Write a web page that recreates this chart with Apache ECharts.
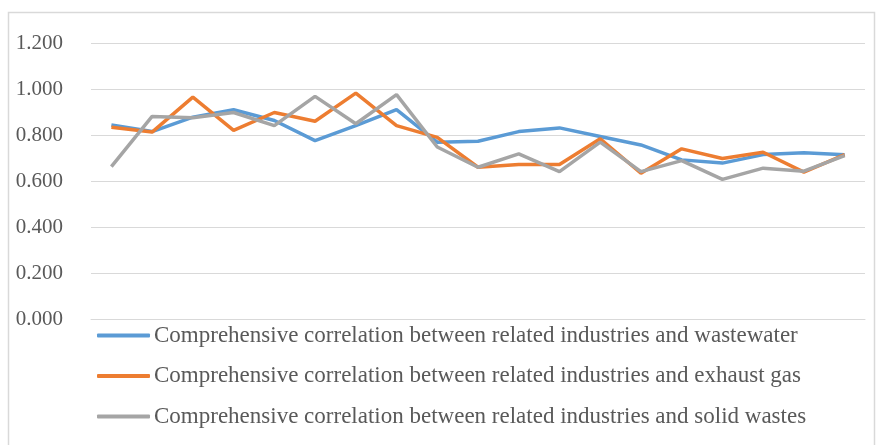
<!DOCTYPE html>
<html><head><meta charset="utf-8">
<script src="https://cdn.jsdelivr.net/npm/echarts@6/dist/echarts.min.js"></script>
<style>html,body{margin:0;padding:0;background:#fff}#c{width:880px;height:445px}</style>
</head><body><div id="c"></div>
<script>
const categories = ['1','2','3','4','5','6','7','8','9','10','11','12','13','14','15','16','17','18','19'];
const seriesNames = [
  'Comprehensive correlation between related industries and wastewater',
  'Comprehensive correlation between related industries and exhaust gas',
  'Comprehensive correlation between related industries and solid wastes'
];
const wastewater = [0.846,0.817,0.880,0.912,0.865,0.778,0.843,0.912,0.771,0.775,0.817,0.833,0.796,0.759,0.694,0.680,0.717,0.725,0.716];
const exhaustGas = [0.836,0.815,0.967,0.822,0.900,0.862,0.984,0.843,0.792,0.662,0.674,0.674,0.786,0.636,0.742,0.700,0.727,0.641,0.717];
const solidWastes = [0.665,0.883,0.877,0.900,0.843,0.970,0.851,0.978,0.750,0.662,0.720,0.643,0.771,0.643,0.691,0.609,0.658,0.645,0.713];
const colors = ['#5B9BD5','#ED7D31','#A5A5A5'];

const chart = echarts.init(document.getElementById('c'), null, {renderer:'canvas'});
const font = 'Liberation Serif';
chart.setOption({
  animation: false,
  color: colors,
  graphic: [{type:'rect', shape:{x:8.5,y:12.5,width:866,height:440}, style:{fill:'none', stroke:'#d9d9d9', lineWidth:1.5}, silent:true}],
  grid: {left:91, right:15, top:43.5, bottom:125.5},
  xAxis: {
    type:'category', data:categories, boundaryGap:true,
    axisLine:{show:true, lineStyle:{color:'#d9d9d9'}}, axisTick:{show:false}, axisLabel:{show:false}
  },
  yAxis: {
    type:'value', min:0, max:1.2, interval:0.2,
    axisLine:{show:false}, axisTick:{show:false},
    splitLine:{lineStyle:{color:'#d9d9d9'}},
    axisLabel:{formatter:v=>v.toFixed(3), color:'#595959', fontFamily:font, fontSize:21, margin:28}
  },
  legend: {
    orient:'vertical', left:97, top:324, padding:0, itemGap:17.5,
    icon:'roundRect', itemWidth:53, itemHeight:4,
    textStyle:{color:'#595959', fontFamily:font, fontSize:23, lineHeight:23, padding:[0,0,0,-1]},
    data: seriesNames
  },
  series: [
    {name:seriesNames[0], type:'line', data:wastewater, showSymbol:false, lineStyle:{width:3.5}},
    {name:seriesNames[1], type:'line', data:exhaustGas, showSymbol:false, lineStyle:{width:3.5}},
    {name:seriesNames[2], type:'line', data:solidWastes, showSymbol:false, lineStyle:{width:3.5}}
  ]
});
</script></body></html>
